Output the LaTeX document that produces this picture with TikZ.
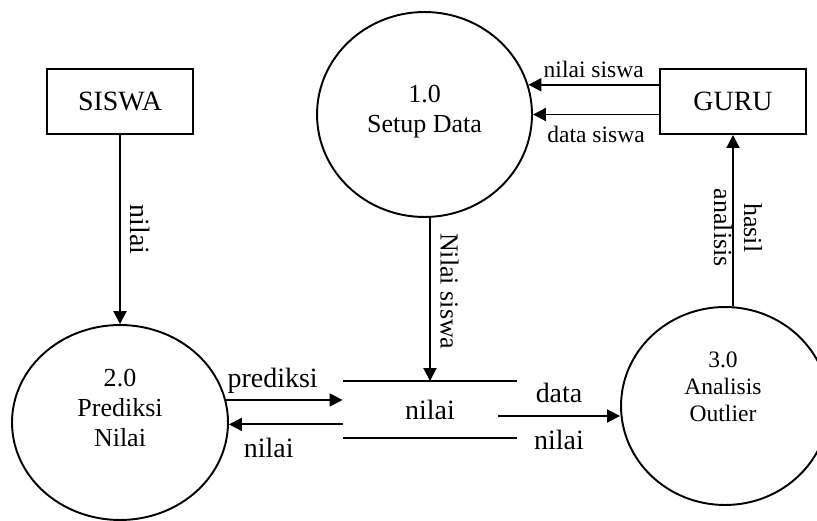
\documentclass[tikz,border=0pt]{standalone}
\usepackage{fontspec}
\setmainfont{Liberation Serif}
\usetikzlibrary{shapes.geometric,arrows.meta}
\newcommand{\fbig}{\fontsize{15.9}{18}\selectfont}
\newcommand{\fmid}{\fontsize{14.8}{17.1}\selectfont}
\newcommand{\fsmall}{\fontsize{13.4}{15.4}\selectfont}

\begin{document}
\begin{tikzpicture}[x=0.02cm, y=-0.02cm, line width=1.1pt,
  proc/.style={ellipse, draw, inner sep=0pt},
  ent/.style={rectangle, draw, minimum width=2.92cm, minimum height=1.3cm, font=\fbig},
  flow/.style={-{Triangle[length=0.26cm, width=0.26cm]}},
  lbl/.style={font=\fbig}]
\useasboundingbox (0,0) rectangle (817,520);
\node[ent] (siswa) at (120,101.5) {SISWA};
\node[ent] (guru) at (733,101.5) {GURU};
\node[proc, minimum width=4.3cm, minimum height=4.1cm] (p1) at (424.5,114.5) {};
\node[proc, minimum width=4.32cm, minimum height=3.9cm] (p2) at (120,422.5) {};
\node[proc, minimum width=4.16cm, minimum height=3.96cm] (p3) at (725,406) {};
\node[align=center, font=\fmid] (t1) at (424.5,112) {1.0\\Setup Data};
\node[align=center, font=\fmid] (t2) at (120,408) {2.0\\Prediksi\\Nilai};
\node[align=center, font=\fsmall] (t3) at (723,386.5) {3.0\\Analisis\\Outlier};
\node[lbl, minimum width=3.46cm, minimum height=1.1cm] (store) at (430,409.5) {nilai};
\draw (store.north west) -- (store.north east);
\draw (store.south west) -- (store.south east);
\coordinate (d0) at (498,416);
\draw[flow] (siswa) -- node[lbl, midway, sloped, above=2pt] {nilai} (p2);
\draw[flow] (guru.west |- p1.16) -- node[font=\fsmall, midway, above] {nilai siswa} (p1.16);
\draw[flow] (guru.west |- p1.east) -- node[font=\fsmall, midway, below=3pt] {data siswa} (p1.east);
\draw[flow] (p1.south -| store.north) -- node[font=\fmid, pos=0.45, sloped, above=2pt] {Nilai siswa} (store.north);
\draw[flow] (guru.south |- p3.north) -- node[font=\fmid, align=center, pos=0.457, xshift=0.1cm, rotate=-90] {hasil\\analisis} (guru.south);
\draw[flow] (p2.12) -- node[lbl, pos=0.4, above] {prediksi} (p2.12 -| store.west);
\draw[flow] (store.west |- p2.-1) -- node[lbl, pos=0.65, below=4pt] {nilai} (p2.-1);
\draw[flow] (d0) -- node[lbl, midway, above=3.5pt] {data} node[lbl, midway, below=4pt] {nilai} (d0 -| p3.west);
\end{tikzpicture}
\end{document}
